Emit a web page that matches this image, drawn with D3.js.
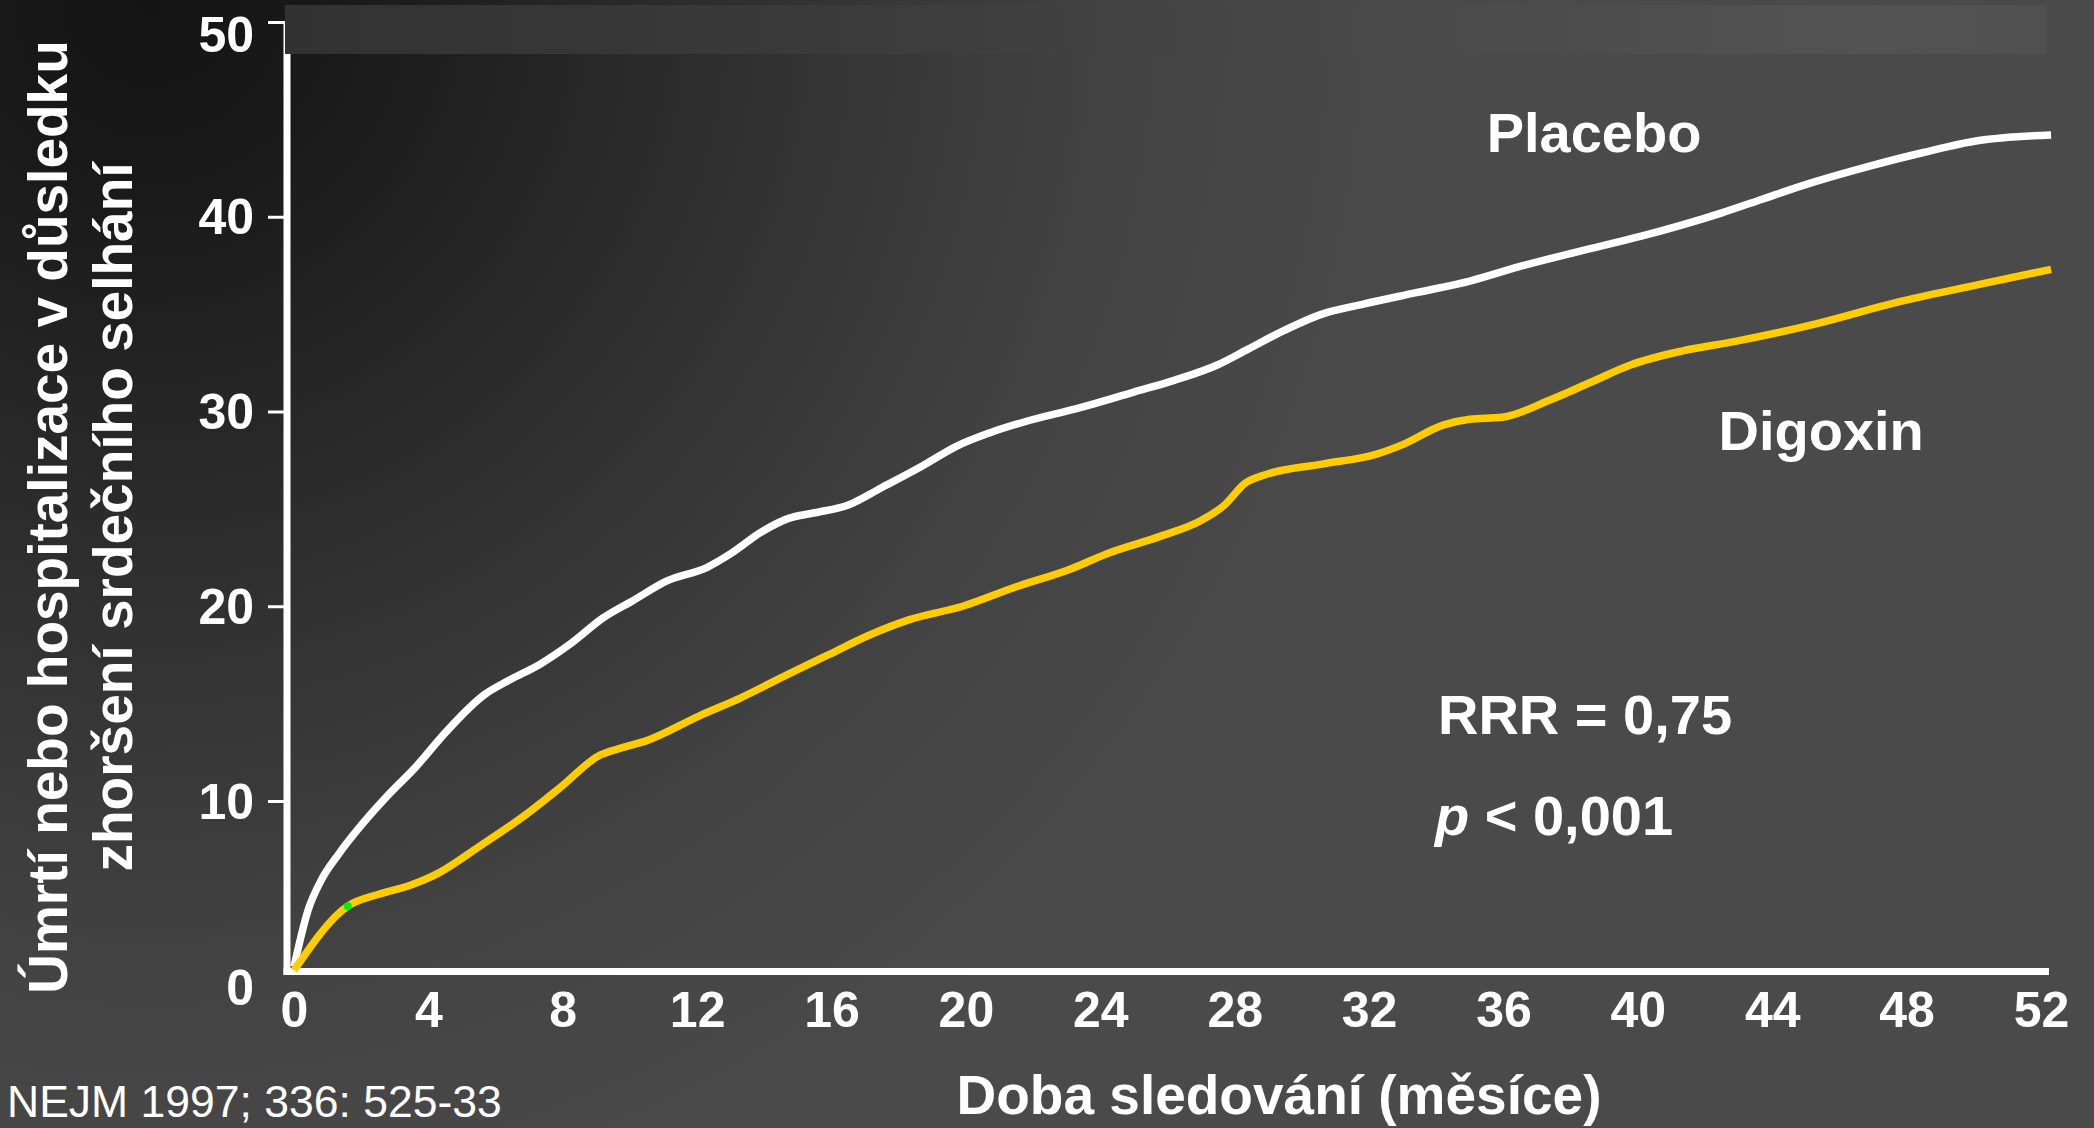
<!DOCTYPE html>
<meta charset="utf-8">
<head>
    <title>Digoxin vs placebo</title>
    <script src="https://d3js.org/d3.v7.min.js"></script>
    <style>
        body { margin: 0; background: #4a4a4a; }
        text { font-family: "Liberation Sans", Arial, Helvetica, sans-serif; fill: #ffffff; }
    </style>
</head>
<body>
<div id="chart"></div>
<script>

// data (months, % of patients)
var placeboMonths = [0, 0.42, 0.8, 1.34, 1.88, 2.8, 3.6, 4.5, 5.66, 6.4, 7.3, 8.25, 9.2, 10.1, 11.1, 12.3, 13.0, 13.9, 14.7, 15.5, 16.5, 17.5, 18.7, 19.7, 20.7, 21.8, 23.4, 25.0, 26.2, 27.5, 28.4, 29.4, 30.6, 31.8, 33.4, 35.0, 36.6, 38.2, 40.1, 42.5, 43.7, 44.9, 46.9, 48.5, 50.1, 52.3];
var placeboValues = [1.5, 4.4, 5.9, 7.3, 8.5, 10.3, 11.7, 13.5, 15.45, 16.2, 17.0, 18.1, 19.4, 20.3, 21.3, 22.0, 22.7, 23.8, 24.5, 24.8, 25.2, 26.1, 27.2, 28.2, 28.9, 29.5, 30.2, 31.0, 31.6, 32.4, 33.2, 34.1, 35.0, 35.5, 36.1, 36.7, 37.5, 38.2, 39.0, 40.2, 40.9, 41.6, 42.6, 43.3, 43.9, 44.2];
var digoxinMonths = [0, 1.6, 2.5, 3.5, 4.3, 5.5, 6.9, 8.0, 9.05, 9.7, 10.5, 12.1, 13.3, 14.7, 15.9, 17.1, 18.3, 19.9, 21.5, 23.1, 24.2, 25.8, 27.0, 27.7, 28.3, 29.0, 30.6, 32.2, 33.0, 34.2, 35.0, 35.96, 37.4, 38.6, 39.8, 41.3, 42.9, 45.3, 47.7, 50.1, 52.3];
var digoxinValues = [1.3, 4.6, 5.2, 5.7, 6.3, 7.65, 9.3, 10.8, 12.3, 12.7, 13.1, 14.4, 15.3, 16.5, 17.5, 18.5, 19.3, 20.0, 21.0, 21.9, 22.7, 23.6, 24.4, 25.2, 26.3, 26.8, 27.3, 27.8, 28.3, 29.3, 29.6, 29.7, 30.6, 31.5, 32.4, 33.1, 33.6, 34.5, 35.6, 36.5, 37.3];
var xTicks = [0, 4, 8, 12, 16, 20, 24, 28, 32, 36, 40, 44, 48, 52];
var yTicks = [0, 10, 20, 30, 40, 50];

var width = 2094,
    height = 1128;

var svg = d3.select("#chart")
    .append("svg")
    .attr("width", width)
    .attr("height", height);

// background: dark corner top-left fading to grey
var defs = svg.append("defs");
var bg = defs.append("radialGradient")
    .attr("id", "bg")
    .attr("gradientUnits", "userSpaceOnUse")
    .attr("cx", 150).attr("cy", 0).attr("r", 1300);
[[0, "#141414"], [0.15, "#1a1a1a"], [0.35, "#282828"], [0.55, "#363636"], [0.75, "#434343"], [1, "#4a4a4a"]]
    .forEach(function(s) { bg.append("stop").attr("offset", s[0]).attr("stop-color", s[1]); });
var band = defs.append("linearGradient").attr("id", "band");
[[0, "#323232"], [0.3, "#3a3a3a"], [0.6, "#484848"], [0.9, "#535353"], [1, "#505050"]]
    .forEach(function(s) { band.append("stop").attr("offset", s[0]).attr("stop-color", s[1]); });

svg.append("rect")
    .attr("width", width).attr("height", height)
    .attr("fill", "url(#bg)");

// scales
var x = d3.scaleLinear().domain([0, 52]).range([294, 2041]);
var y = d3.scaleLinear().domain([0, 50]).range([995.75, 22]);
var axisY = y(1.25);
var axisX = 287;

// Y axis (ticks + labels)
var gy = svg.append("g")
    .attr("transform", "translate(" + axisX + ",0)")
    .call(d3.axisLeft(y).tickValues(yTicks).tickSize(19).tickPadding(14).tickFormat(d3.format("d")));
gy.select(".domain").remove();
gy.selectAll(".tick line").attr("stroke", "#ffffff").attr("stroke-width", 3)
    .filter(function(d) { return d === 0; }).remove();
gy.selectAll(".tick text")
    .style("font-size", "50px").style("font-weight", "bold").attr("fill", "#ffffff")
    .attr("dy", function(d) { return d === 50 ? "0.58em" : "0.34em"; })
    .attr("y", function(d) { return d === 0 ? -8 : 0; });

// X axis (labels only)
var gx = svg.append("g")
    .attr("transform", "translate(0," + axisY + ")")
    .call(d3.axisBottom(x).tickValues(xTicks).tickSize(0).tickPadding(20));
gx.select(".domain").remove();
gx.selectAll(".tick text")
    .style("font-size", "50px").style("font-weight", "bold").attr("fill", "#ffffff");

// axis lines
svg.append("line")
    .attr("x1", axisX).attr("x2", axisX)
    .attr("y1", y(50)).attr("y2", axisY + 3.5)
    .attr("stroke", "#ffffff").attr("stroke-width", 7);
svg.append("line")
    .attr("x1", axisX - 3.5).attr("x2", x(52) + 8)
    .attr("y1", axisY).attr("y2", axisY)
    .attr("stroke", "#ffffff").attr("stroke-width", 7);

// light band along the top
svg.append("rect")
    .attr("x", axisX - 2).attr("y", 5)
    .attr("width", 2047 - axisX + 2).attr("height", 49)
    .attr("fill", "url(#band)");

// curves
var line = d3.line()
    .x(function(d) { return x(d[0]); })
    .y(function(d) { return y(d[1]); })
    .curve(d3.curveMonotoneX);

svg.append("path")
    .datum(d3.zip(placeboMonths, placeboValues))
    .attr("fill", "none")
    .attr("stroke", "#ffffff")
    .attr("stroke-width", 7.5)
    .attr("d", line);

svg.append("path")
    .datum(d3.zip(digoxinMonths, digoxinValues))
    .attr("fill", "none")
    .attr("stroke", "#ffcc00")
    .attr("stroke-width", 7.5)
    .attr("d", line);

// small green mark on the digoxin kink
svg.append("circle")
    .attr("cx", x(digoxinMonths[1])).attr("cy", y(digoxinValues[1]))
    .attr("r", 4).attr("fill", "#00ee00");

// series labels and statistics
svg.append("text").attr("x", x(35.5)).attr("y", y(43.3))
    .text("Placebo").style("font-size", "56px").style("font-weight", "bold");
svg.append("text").attr("x", x(42.4)).attr("y", y(28.0))
    .text("Digoxin").style("font-size", "56px").style("font-weight", "bold");
svg.append("text").attr("x", x(34.05)).attr("y", y(13.44))
    .text("RRR = 0,75").style("font-size", "56px").style("font-weight", "bold");
var pText = svg.append("text").attr("x", x(33.96)).attr("y", y(8.25))
    .style("font-size", "56px").style("font-weight", "bold");
pText.append("tspan").style("font-style", "italic").text("p");
pText.append("tspan").text(" < 0,001");

// axis titles
var ytitle = svg.append("text")
    .attr("text-anchor", "middle")
    .attr("transform", "translate(67,517) rotate(-90)")
    .style("font-size", "55px").style("font-weight", "bold");
ytitle.append("tspan").attr("x", 0).attr("y", 0).text("Úmrtí nebo hospitalizace v důsledku");
ytitle.append("tspan").attr("x", 0).attr("y", 65).text("zhoršení srdečního selhání");

svg.append("text")
    .attr("text-anchor", "middle")
    .attr("x", 1279).attr("y", 1114)
    .text("Doba sledování (měsíce)")
    .style("font-size", "55px").style("font-weight", "bold");

// source
svg.append("text")
    .attr("x", 7).attr("y", 1117)
    .text("NEJM 1997; 336: 525-33")
    .style("font-size", "44.5px");

</script>
</body>
</html>
